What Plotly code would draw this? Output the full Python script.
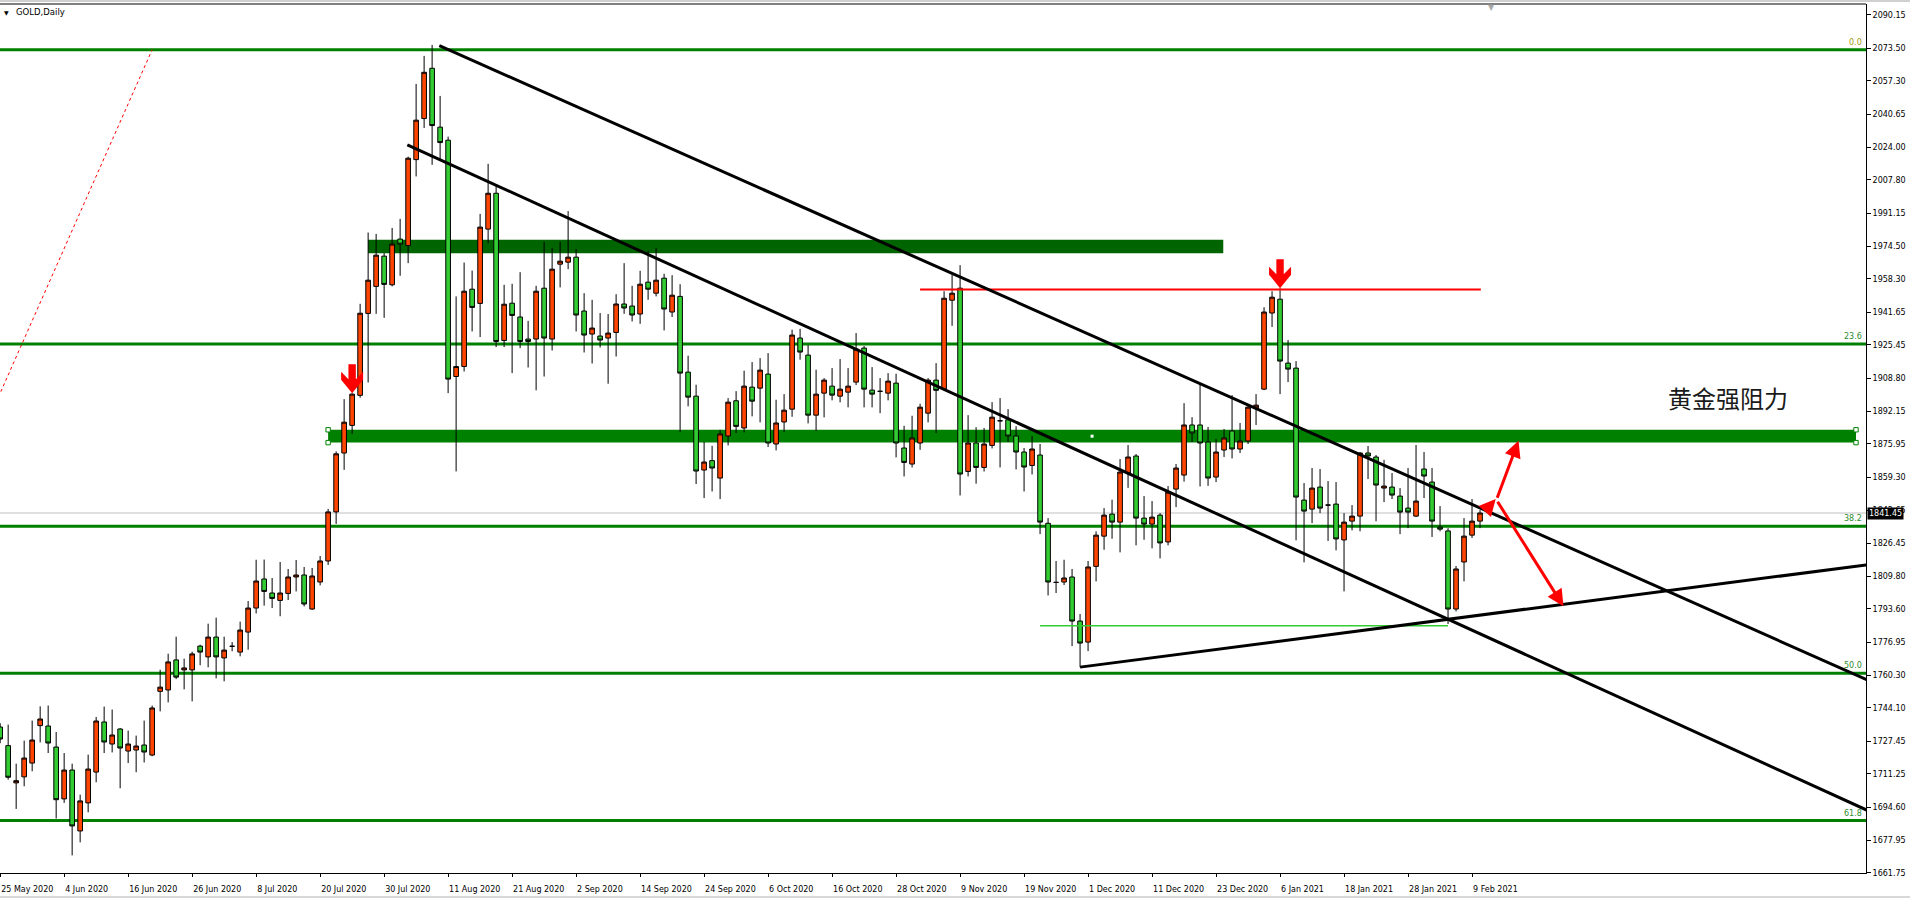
import plotly.graph_objects as go
import pandas as pd

# ---------------- data ----------------
dates = [d for d in pd.bdate_range("2020-05-25", "2021-02-10")
         if d.strftime("%Y-%m-%d") not in ("2020-12-25", "2021-01-01")]

opens = [1734.6, 1725.3, 1706.7, 1709.7, 1716.6, 1735.3, 1735.1, 1724.6, 1698.7, 1713.1,
         1682.7, 1696.7, 1712.1, 1737.1, 1726.1, 1733.6, 1722.6, 1723.1, 1725.6, 1720.6,
         1752.4, 1753.1, 1768.1, 1763.1, 1763.1, 1775.0, 1769.6, 1779.5, 1769.1, 1774.9,
         1772.0, 1782.0, 1794.0, 1808.5, 1801.5, 1797.8, 1801.3, 1809.5, 1810.5, 1793.5,
         1807.0, 1817.5, 1842.0, 1871.4, 1885.2, 1900.2, 1941.1, 1954.6, 1969.7, 1955.4,
         1978.2, 1975.0, 2017.9, 2038.4, 2063.5, 2034.1, 2027.6, 1909.6, 1914.6, 1953.2,
         1946.1, 1983.2, 2001.1, 1927.6, 1946.2, 1939.3, 1928.3, 1928.3, 1953.7, 1928.3,
         1965.7, 1966.7, 1969.2, 1942.3, 1930.8, 1929.8, 1928.8, 1931.6, 1945.8, 1944.8,
         1940.8, 1956.7, 1951.2, 1958.7, 1941.8, 1949.6, 1911.8, 1899.8, 1862.9, 1867.6,
         1858.9, 1879.9, 1897.5, 1883.9, 1904.3, 1903.8, 1910.8, 1875.9, 1886.9, 1893.3,
         1928.8, 1920.3, 1890.3, 1901.3, 1904.8, 1899.8, 1901.8, 1906.8, 1923.8, 1902.8,
         1902.2, 1901.3, 1906.3, 1873.9, 1865.9, 1876.4, 1891.3, 1907.8, 1903.3, 1947.7,
         1953.7, 1862.2, 1876.4, 1864.2, 1875.2, 1887.5, 1888.0, 1879.9, 1871.9, 1865.2,
         1870.4, 1836.3, 1806.8, 1807.0, 1809.5, 1787.5, 1777.0, 1814.8, 1829.9, 1840.9,
         1836.9, 1861.4, 1869.9, 1838.9, 1835.9, 1840.4, 1827.0, 1853.4, 1860.4, 1885.4,
         1885.4, 1876.9, 1859.4, 1872.9, 1882.4, 1873.4, 1877.4, 1893.8, 1903.3, 1941.3,
         1948.2, 1916.3, 1913.8, 1847.9, 1843.4, 1854.4, 1845.4, 1845.9, 1828.0, 1837.4,
         1839.9, 1871.4, 1869.4, 1853.9, 1854.4, 1849.9, 1843.9, 1839.9, 1863.4, 1856.9,
         1834.4, 1832.5, 1793.5, 1817.0, 1830.4, 1837.4]

highs = [1736.5, 1735.8, 1716.3, 1727.8, 1737.8, 1744.9, 1745.3, 1732.1, 1721.6, 1716.3,
         1700.8, 1720.8, 1739.6, 1744.8, 1743.3, 1734.1, 1732.8, 1730.3, 1737.8, 1745.3,
         1763.2, 1771.2, 1779.7, 1768.7, 1772.2, 1775.7, 1786.2, 1789.2, 1779.7, 1777.0,
         1787.2, 1797.5, 1818.1, 1818.2, 1809.0, 1817.0, 1813.5, 1818.0, 1814.5, 1814.0,
         1820.0, 1843.5, 1872.2, 1898.3, 1901.3, 1945.9, 1981.5, 1980.8, 1971.2, 1983.8,
         1988.3, 2019.4, 2055.7, 2069.7, 2075.2, 2049.7, 2029.4, 1949.6, 1966.5, 1962.5,
         1990.8, 2015.8, 2005.3, 1955.4, 1955.9, 1961.7, 1937.4, 1954.9, 1976.9, 1973.7,
         1976.9, 1992.2, 1973.2, 1951.2, 1947.9, 1941.3, 1940.8, 1950.7, 1966.2, 1954.9,
         1962.4, 1972.4, 1973.7, 1960.9, 1960.2, 1955.7, 1920.0, 1905.5, 1876.9, 1875.0,
         1883.0, 1898.8, 1902.3, 1912.5, 1916.8, 1918.8, 1921.3, 1898.0, 1900.8, 1933.0,
         1933.4, 1925.3, 1913.0, 1908.8, 1913.8, 1918.3, 1913.8, 1931.3, 1924.8, 1914.3,
         1908.8, 1911.3, 1911.0, 1885.0, 1890.0, 1896.0, 1908.8, 1916.3, 1952.2, 1960.4,
         1965.2, 1890.3, 1884.3, 1883.9, 1896.8, 1898.8, 1893.3, 1884.8, 1873.9, 1879.9,
         1875.9, 1838.9, 1817.5, 1818.1, 1813.5, 1791.0, 1817.5, 1832.3, 1843.9, 1848.1,
         1868.4, 1875.4, 1870.9, 1849.9, 1847.4, 1841.4, 1854.9, 1865.9, 1896.3, 1889.3,
         1906.3, 1884.4, 1878.4, 1883.4, 1900.3, 1886.4, 1895.8, 1900.8, 1944.2, 1952.2,
         1953.7, 1927.8, 1917.3, 1856.4, 1863.9, 1863.4, 1857.4, 1856.9, 1841.4, 1845.4,
         1871.9, 1874.9, 1870.4, 1868.0, 1861.4, 1853.9, 1863.9, 1875.4, 1871.9, 1863.9,
         1844.9, 1833.9, 1815.0, 1838.9, 1848.4, 1842.9]

lows = [1726.5, 1708.3, 1693.7, 1705.0, 1712.5, 1726.9, 1721.6, 1688.9, 1696.7, 1670.5,
        1677.0, 1692.0, 1707.0, 1721.6, 1721.9, 1704.0, 1716.6, 1712.0, 1716.9, 1720.0,
        1742.4, 1746.9, 1758.5, 1753.4, 1747.4, 1765.4, 1764.4, 1758.9, 1757.4, 1772.4,
        1769.9, 1773.2, 1791.3, 1795.2, 1794.0, 1789.9, 1798.0, 1802.3, 1794.8, 1793.0,
        1805.3, 1815.5, 1836.0, 1863.0, 1881.0, 1899.0, 1906.6, 1940.9, 1938.9, 1954.6,
        1959.9, 1966.2, 2009.5, 2033.7, 2015.3, 2017.4, 1901.3, 1862.2, 1912.1, 1932.1,
        1929.3, 1976.2, 1924.3, 1924.3, 1911.3, 1923.8, 1914.1, 1902.7, 1909.6, 1922.6,
        1954.1, 1963.2, 1932.1, 1921.6, 1916.1, 1924.1, 1906.0, 1919.6, 1940.9, 1937.1,
        1935.9, 1947.9, 1949.6, 1932.6, 1939.3, 1881.9, 1894.7, 1855.9, 1848.9, 1852.2,
        1848.4, 1875.2, 1881.4, 1881.7, 1889.7, 1886.7, 1874.4, 1872.7, 1881.9, 1889.5,
        1918.0, 1886.2, 1882.4, 1889.2, 1897.7, 1896.7, 1894.2, 1905.3, 1894.2, 1894.2,
        1891.3, 1897.7, 1869.2, 1859.7, 1864.2, 1873.0, 1886.7, 1881.4, 1902.7, 1934.9,
        1850.2, 1859.7, 1856.1, 1862.2, 1873.7, 1864.2, 1876.9, 1863.2, 1852.2, 1860.7,
        1830.9, 1800.3, 1801.5, 1805.5, 1775.0, 1764.5, 1772.5, 1807.3, 1823.1, 1828.6,
        1821.8, 1854.0, 1825.3, 1828.1, 1823.8, 1818.8, 1825.3, 1844.4, 1857.1, 1876.9,
        1854.7, 1855.0, 1856.9, 1869.4, 1868.7, 1871.4, 1875.9, 1885.4, 1902.8, 1934.3,
        1900.8, 1906.8, 1827.8, 1816.8, 1836.4, 1841.4, 1827.5, 1822.8, 1802.3, 1832.8,
        1832.3, 1858.4, 1837.3, 1846.9, 1848.4, 1830.9, 1833.9, 1839.4, 1848.9, 1829.5,
        1832.3, 1786.0, 1792.3, 1807.3, 1829.0, 1833.9]

closes = [1728.6, 1709.5, 1707.8, 1719.1, 1728.1, 1738.6, 1726.6, 1698.3, 1713.1, 1685.2,
          1697.7, 1713.6, 1737.6, 1727.1, 1730.6, 1724.1, 1726.1, 1725.1, 1722.1, 1744.1,
          1754.5, 1767.1, 1759.5, 1764.1, 1771.1, 1772.0, 1779.5, 1769.6, 1773.0, 1774.9,
          1783.0, 1794.0, 1807.5, 1802.3, 1798.8, 1801.5, 1809.5, 1810.5, 1796.0, 1810.0,
          1817.5, 1842.0, 1871.0, 1886.8, 1900.8, 1941.2, 1957.7, 1970.2, 1955.6, 1975.7,
          1975.7, 2018.6, 2037.6, 2061.5, 2034.9, 2026.4, 1908.3, 1914.6, 1952.2, 1944.1,
          1984.2, 2001.1, 1927.1, 1945.7, 1940.1, 1927.1, 1927.1, 1952.2, 1928.8, 1963.2,
          1967.2, 1969.2, 1940.3, 1930.3, 1933.8, 1927.8, 1931.3, 1945.8, 1943.8, 1940.3,
          1955.7, 1953.2, 1957.7, 1943.3, 1950.2, 1911.3, 1899.3, 1862.4, 1866.9, 1863.9,
          1880.9, 1896.8, 1884.7, 1904.8, 1897.3, 1912.8, 1876.4, 1886.4, 1892.8, 1930.3,
          1921.8, 1890.3, 1900.8, 1907.8, 1900.3, 1903.3, 1904.8, 1923.3, 1903.3, 1900.8,
          1902.2, 1907.3, 1876.4, 1866.7, 1878.9, 1894.3, 1907.8, 1902.7, 1948.7, 1951.2,
          1860.9, 1876.4, 1864.2, 1875.9, 1889.3, 1887.5, 1879.9, 1871.9, 1864.4, 1873.4,
          1836.9, 1807.0, 1806.8, 1809.0, 1787.5, 1776.5, 1814.5, 1830.4, 1840.4, 1836.9,
          1861.9, 1869.4, 1838.9, 1835.9, 1839.4, 1826.5, 1851.9, 1863.9, 1885.4, 1881.4,
          1876.4, 1858.9, 1871.9, 1878.9, 1873.4, 1877.4, 1894.3, 1895.3, 1941.8, 1949.2,
          1917.3, 1913.3, 1849.4, 1842.4, 1853.9, 1843.9, 1845.4, 1828.5, 1836.9, 1839.9,
          1871.4, 1869.9, 1855.4, 1854.9, 1850.4, 1841.9, 1841.9, 1847.4, 1859.9, 1837.4,
          1833.4, 1793.5, 1813.5, 1829.9, 1837.4, 1841.45]

x_tick_labels = ["25 May 2020", "4 Jun 2020", "16 Jun 2020", "26 Jun 2020", "8 Jul 2020",
                 "20 Jul 2020", "30 Jul 2020", "11 Aug 2020", "21 Aug 2020", "2 Sep 2020",
                 "14 Sep 2020", "24 Sep 2020", "6 Oct 2020", "16 Oct 2020", "28 Oct 2020",
                 "9 Nov 2020", "19 Nov 2020", "1 Dec 2020", "11 Dec 2020", "23 Dec 2020",
                 "6 Jan 2021", "18 Jan 2021", "28 Jan 2021", "9 Feb 2021"]
x_tick_step = 8

y_tick_labels = ["2090.15", "2073.50", "2057.30", "2040.65", "2024.00", "2007.80", "1991.15",
                 "1974.50", "1958.30", "1941.65", "1925.45", "1908.80", "1892.15", "1875.95",
                 "1859.30", "1842.65", "1826.45", "1809.80", "1793.60", "1776.95", "1760.30",
                 "1744.10", "1727.45", "1711.25", "1694.60", "1677.95", "1661.75"]

# Fibonacci retracement (anchor bars, prices)
fib_anchor_bars = [-50.0, 19.0]
fib_low, fib_high = 1450.0, 2072.8
fib_levels = [0.0, 23.6, 38.2, 50.0, 61.8]
fib_labels = ["0.0", "23.6", "38.2", "50.0", "61.8"]

# drawn objects (bar index, price)
trend_upper = [(54.9, 2074.8), (233.4, 1758.1)]
trend_lower = [(50.9, 2025.3), (233.4, 1693.0)]
trend_rising = [(135.0, 1764.5), (233.4, 1815.6)]
red_level = [(115.0, 185.1), 1953.0]
support_level = [(130.0, 181.0), 1785.2]
upper_zone = [(46.0, 152.9), (1971.1, 1977.9)]
lower_zone = [(41.0, 232.0), (1876.6, 1883.0)]
arrow_bars = [44, 160]
path_arrows = [((185.5, 1841.8), (186.96, 1848.4)),
               ((187.08, 1848.3), (189.81, 1877.5)),
               ((187.08, 1847.8), (195.43, 1794.9))]
note_text = "黄金强阻力"
note_pos = (216.0, 1899.2)

# ---------------- figure ----------------
W, H = 1910, 899
ML, MR, MT, MB = 0, 44, 4, 26
X_RANGE = [-0.02, 233.25]
Y_RANGE = [1661.7, 2095.6]
bx = (X_RANGE[1] - X_RANGE[0]) / (W - ML - MR)   # bars per pixel
by = (Y_RANGE[1] - Y_RANGE[0]) / (H - MT - MB)   # price per pixel

xs = list(range(len(dates)))
fig = go.Figure()
fig.add_trace(go.Candlestick(
    x=xs, open=opens, high=highs, low=lows, close=closes,
    increasing=dict(fillcolor="#FF4500", line=dict(color="black", width=1)),
    decreasing=dict(fillcolor="#32CD32", line=dict(color="black", width=1)),
    whiskerwidth=0, hoverinfo="skip", showlegend=False))

shapes = []
annotations = []
GREEN = "#008000"

# bid line
shapes.append(dict(type="line", xref="paper", x0=0, x1=1, yref="y",
                   y0=closes[-1], y1=closes[-1], line=dict(color="#C0C0C0", width=1),
                   layer="below"))
# zones
shapes.append(dict(type="rect", xref="x", yref="y", x0=upper_zone[0][0], x1=upper_zone[0][1],
                   y0=upper_zone[1][0], y1=upper_zone[1][1], fillcolor="#006400",
                   line=dict(width=0), layer="below"))
shapes.append(dict(type="rect", xref="x", yref="y", x0=lower_zone[0][0], x1=lower_zone[0][1],
                   y0=lower_zone[1][0], y1=lower_zone[1][1], fillcolor=GREEN,
                   line=dict(width=0), layer="below"))
# fib lines
rng = fib_high - fib_low
for lv, lab in zip(fib_levels, fib_labels):
    p = fib_high - lv / 100.0 * rng
    shapes.append(dict(type="line", xref="paper", x0=0, x1=1, yref="y", y0=p, y1=p,
                       line=dict(color=GREEN, width=3), layer="below"))
    annotations.append(dict(xref="paper", x=1, xanchor="right", xshift=-2, yref="y", y=p,
                            yanchor="bottom", yshift=1, text=lab, showarrow=False,
                            font=dict(family="DejaVu Sans", size=8,
                                      color="#A09A10" if lv == 0 else "#2E8B2E")))
# fib base dotted line
shapes.append(dict(type="line", xref="x", yref="y", x0=fib_anchor_bars[0], y0=fib_low,
                   x1=fib_anchor_bars[1], y1=fib_high,
                   line=dict(color="red", width=1, dash="dot")))
# handles of the selected lower zone
hs = 2.2
for hx in lower_zone[0]:
    for hy in lower_zone[1]:
        shapes.append(dict(type="rect", xref="x", yref="y", x0=hx - hs * bx, x1=hx + hs * bx,
                           y0=hy - hs * by, y1=hy + hs * by, fillcolor="white",
                           line=dict(color=GREEN, width=1)))
cx = sum(lower_zone[0]) / 2
cy = sum(lower_zone[1]) / 2
shapes.append(dict(type="rect", xref="x", yref="y", x0=cx - 1.5 * bx, x1=cx + 1.5 * bx,
                   y0=cy - 1.5 * by, y1=cy + 1.5 * by, fillcolor="white", line=dict(width=0)))
# horizontal levels
shapes.append(dict(type="line", xref="x", yref="y", x0=red_level[0][0], x1=red_level[0][1],
                   y0=red_level[1], y1=red_level[1], line=dict(color="#FF0000", width=2)))
shapes.append(dict(type="line", xref="x", yref="y", x0=support_level[0][0], x1=support_level[0][1],
                   y0=support_level[1], y1=support_level[1], line=dict(color="#32CD32", width=1.5)))
# trend lines
for ln in (trend_upper, trend_lower, trend_rising):
    shapes.append(dict(type="line", xref="x", yref="y", x0=ln[0][0], y0=ln[0][1],
                       x1=ln[1][0], y1=ln[1][1], line=dict(color="black", width=3)))
# down arrows at highs
arrow_pts = [(-3.7, 29), (3.7, 29), (3.7, 14), (11, 21.5), (11, 13.5), (0, 0),
             (-11, 13.5), (-11, 21.5), (-3.7, 14)]
for b in arrow_bars:
    tip = highs[b]
    path = "M " + " L ".join(f"{b + dx * bx:.4f},{tip + dy * by:.4f}" for dx, dy in arrow_pts) + " Z"
    shapes.append(dict(type="path", xref="x", yref="y", path=path, fillcolor="#FF0000",
                       line=dict(width=0)))
# window frame lines
shapes.append(dict(type="line", xref="paper", yref="paper", x0=0, x1=1, y0=1, y1=1,
                   line=dict(color="black", width=1)))
shapes.append(dict(type="line", xref="paper", yref="paper", x0=0, x1=1.03, y0=1 + 3 / 869, y1=1 + 3 / 869,
                   line=dict(color="#A0A0A0", width=1)))
shapes.append(dict(type="line", xref="paper", yref="paper", x0=0, x1=1.03, y0=-24 / 869, y1=-24 / 869,
                   line=dict(color="#D8D8D8", width=2)))

# red projection arrows
for (sx, sy), (ex, ey) in path_arrows:
    annotations.append(dict(x=ex, y=ey, ax=sx, ay=sy, xref="x", yref="y", axref="x", ayref="y",
                            text="", showarrow=True, arrowhead=2, arrowsize=1.1, arrowwidth=3,
                            arrowcolor="#FF0000", standoff=0, startstandoff=0))
# note text
annotations.append(dict(x=note_pos[0], y=note_pos[1], xref="x", yref="y", text=note_text,
                        showarrow=False, font=dict(family="Noto Sans CJK SC", size=24, color="#1A1A1A")))
# title
annotations.append(dict(xref="paper", yref="paper", x=14 / 1866, y=1 - 8 / 869, xanchor="left",
                        yanchor="middle", text="GOLD,Daily", showarrow=False,
                        font=dict(family="DejaVu Sans", size=8.5, color="black")))
annotations.append(dict(xref="paper", yref="paper", x=2 / 1866, y=1 - 8 / 869, xanchor="left",
                        yanchor="middle", text="▼", showarrow=False,
                        font=dict(family="DejaVu Sans", size=6, color="black")))
annotations.append(dict(xref="paper", yref="paper", x=1491 / 1866, y=1.004, xanchor="center",
                        yanchor="top", text="▼", showarrow=False,
                        font=dict(family="DejaVu Sans", size=8, color="#A8A8A8")))
# current price box
annotations.append(dict(xref="paper", x=1, xanchor="left", xshift=1, yref="y", y=closes[-1],
                        yanchor="middle", text=f"{closes[-1]:.2f}", showarrow=False,
                        bgcolor="black", borderpad=1,
                        font=dict(family="DejaVu Sans", size=8, color="white")))

fig.update_layout(
    width=W, height=H, margin=dict(l=ML, r=MR, t=MT, b=MB),
    paper_bgcolor="white", plot_bgcolor="white", showlegend=False,
    shapes=shapes, annotations=annotations, boxgap=0.42, boxgroupgap=0,
    xaxis=dict(range=X_RANGE, rangeslider=dict(visible=False), showgrid=False, zeroline=False,
               tickvals=[i * x_tick_step for i in range(len(x_tick_labels))],
               ticktext=x_tick_labels, ticks="outside", ticklen=3, tickcolor="black",
               ticklabelposition="outside right", ticklabelstandoff=8,
               showline=True, linecolor="black", linewidth=1,
               tickfont=dict(family="DejaVu Sans", size=8, color="black"), fixedrange=True),
    yaxis=dict(range=Y_RANGE, side="right", showgrid=False, zeroline=False,
               tickvals=[float(t) for t in y_tick_labels], ticktext=y_tick_labels,
               ticks="outside", ticklen=4, tickcolor="black",
               showline=True, linecolor="black", linewidth=1,
               tickfont=dict(family="DejaVu Sans", size=8, color="black"), fixedrange=True),
)

fig.write_html("out.html", config={"displayModeBar": False},
               post_script="document.body.style.margin='0px';")
